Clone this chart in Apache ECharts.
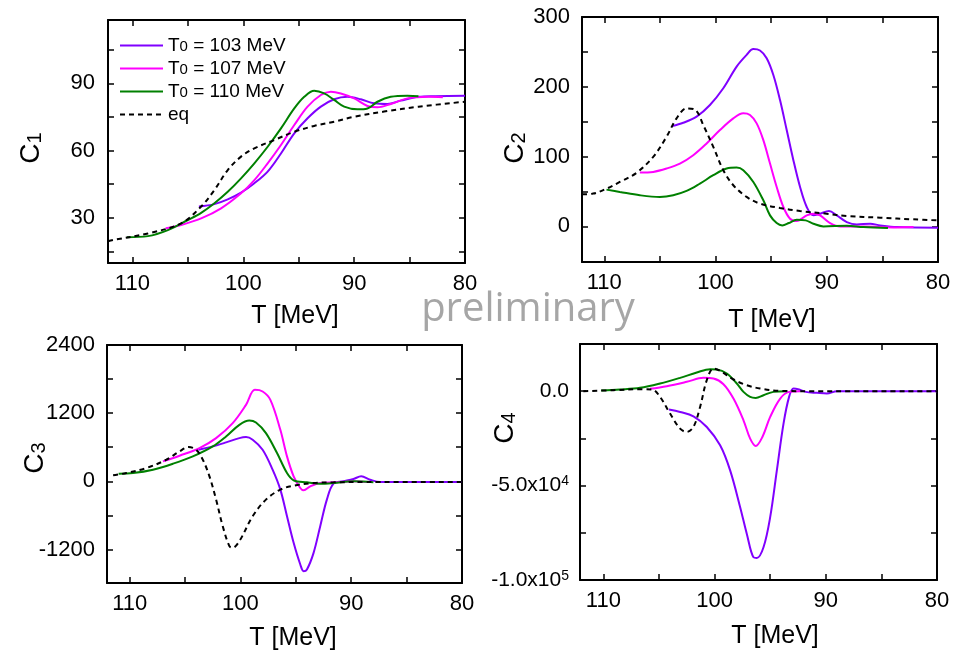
<!DOCTYPE html>
<html>
<head>
<meta charset="utf-8">
<script src="https://cdn.jsdelivr.net/npm/echarts@6/dist/echarts.min.js"></script>
<style>html,body{margin:0;padding:0;background:#fff}#c{width:959px;height:656px}</style>
</head>
<body>
<div id="c"></div>
<script>
// ---------- tick / label values ----------
const T_TICKS = [80, 85, 90, 95, 100, 105, 110];
const T_LABELS = [80, 90, 100, 110];
const C1_TICKS = [15, 30, 45, 60, 75, 90, 105];
const C1_LABELS = [30, 60, 90];
const C2_TICKS = [-50, 0, 50, 100, 150, 200, 250, 300];
const C2_LABELS = [0, 100, 200, 300];
const C3_TICKS = [-1800, -1200, -600, 0, 600, 1200, 1800, 2400];
const C3_LABELS = [-1200, 0, 1200, 2400];
const C4_TICKS = [-100000, -75000, -50000, -25000, 0, 25000];
const C4_LABELS = [-100000, -50000, 0];
const SERIES_NAMES = ['T0 = 103 MeV', 'T0 = 107 MeV', 'T0 = 110 MeV', 'eq'];

// ---------- C1 ----------
const c1_103 = [[104,35],[102.6,36.1],[101.4,38.2],[100.2,41.2],[99,45.4],[97.8,50.6],[96.6,58.7],[95.4,67.7],[94.2,74.4],[93,79.6],[91.8,82.9],[90.6,84],[89.4,82.9],[88.2,81.1],[87,80.8],[85.8,82.3],[84.2,84],[82.7,84.3],[80,84.5]];
const c1_107 = [[107,25.3],[105.6,26.8],[103.8,29.7],[102,34.2],[100.2,40.9],[99,46.8],[97.8,54.3],[96.6,62.5],[95.4,71.4],[94.2,79.6],[93,84.8],[92.1,86.3],[91.2,85.5],[90,83.3],[88.8,79.9],[87.9,79.3],[86.7,80.8],[85.2,83.3],[83.3,84],[82,83.8]];
const c1_110 = [[110.5,21.3],[108.6,21.8],[106.8,24.5],[105,29],[103.8,32.2],[102.6,36.5],[101.4,41.6],[100.2,47.6],[99,54.3],[97.8,61.7],[96.6,69.9],[95.4,78.8],[94.5,84],[93.6,86.7],[92.7,85.5],[91.8,82.6],[90.9,79.6],[89.7,78.4],[88.8,78.8],[87.9,81.8],[86.7,84],[85.2,84.5],[84.2,84.3]];
const c1_eq = [[112.2,19.5],[111.7,20.1],[108.6,23],[105.6,27.5],[103.8,35],[102.6,42.4],[101.4,51.3],[100.2,57.3],[99,61],[97.2,64.7],[95.4,68.4],[93.6,71],[91.8,72.9],[90,75.1],[87.3,77.4],[84.2,79.6],[80,81.8]];

// ---------- C2 ----------
const c2_103 = [[103.9,143.7],[102.9,148.5],[101.7,157.2],[100.5,173.9],[99.3,197.9],[98.1,229],[97.2,245.8],[96.6,254],[96,252],[95.4,241],[94.8,217],[94.2,181],[93.6,138],[93,94.9],[92.4,56.5],[91.8,27.8],[91.2,15.8],[90.6,18.2],[89.8,22],[89.1,15.8],[88.2,6.2],[87.3,2.9],[86.1,3.8],[85.2,1.4],[83.7,-1],[80,-1.9]];
const c2_107 = [[106.8,77.1],[105.6,78.1],[104.4,82.9],[103.2,90],[102,102],[100.8,118.8],[99.6,138],[98.4,154.8],[97.5,162],[96.9,159.6],[96.3,147.6],[95.7,123.6],[95.1,90],[94.5,56.5],[93.9,27.8],[93.3,11],[92.7,7.7],[91.8,15.8],[91.2,18.2],[90.6,15.8],[89.7,4.8],[88.8,0],[86.7,0],[83.7,-1.4],[82.2,-1]];
const c2_110 = [[109.8,52.7],[108.6,49.4],[106.8,44.6],[105,42.2],[103.8,44.6],[102.6,50.8],[101.4,61.3],[100.2,73.3],[99,82.9],[98.1,84.3],[97.5,80.5],[96.6,63.7],[95.7,37.4],[95.1,15.8],[94.5,4.8],[94,1.4],[93.4,4.8],[92.7,9.6],[91.9,8.6],[91.2,3.8],[90.3,0],[88.2,1],[86.7,-1],[84.5,-2.4]];
const c2_eq = [[112,46],[111,47],[109.8,54],[108.6,63.7],[107.1,76.7],[105.6,99.7],[104.4,128.4],[103.5,154.8],[102.6,169.1],[101.8,166.7],[101.1,145.2],[100.2,114],[99.3,80.5],[98.4,59],[97.2,42.2],[96,32.6],[94.2,26.4],[92.4,22],[90,18.2],[88.2,14.9],[85.2,12.5],[82.2,10.1],[80,8.6]];

// ---------- C3 ----------
const c3_103 = [[103.8,556],[102.5,615],[101.3,685],[100.1,761],[99.5,779],[98.9,732],[98,556],[97.1,205],[96.4,-146],[95.8,-615],[95.2,-1083],[94.6,-1464],[94.3,-1581],[94,-1551],[93.4,-1259],[92.8,-790],[92.2,-322],[91.6,-41],[90.7,0],[89.8,41],[89.1,88],[88.3,29],[87.4,-12],[80,-12]];
const c3_107 = [[107,351],[105.5,451],[103.7,585],[102.2,761],[100.7,1024],[99.5,1346],[98.7,1610],[98,1581],[97.3,1434],[96.4,907],[95.8,439],[95.2,88],[94.6,-117],[94.3,-158],[93.7,-88],[92.8,-29],[91.6,-18],[89.8,0],[88.6,-12]];
const c3_110 = [[111,135],[109.7,146],[107.9,205],[106.1,310],[104.3,439],[102.5,615],[101.3,790],[100.1,995],[99.2,1071],[98.6,1036],[97.7,849],[96.7,498],[95.8,146],[95.2,18],[94,-18],[92.8,-41],[91.6,-29],[89.8,0],[88,-18]];
const c3_eq = [[111.5,105],[110.3,146],[108.5,234],[106.7,380],[105.5,527],[104.7,603],[104,556],[103.4,380],[102.8,88],[102.2,-322],[101.6,-790],[101,-1141],[100.7,-1170],[100.1,-1054],[98.9,-615],[97.7,-322],[96.4,-146],[95.2,-76],[93.4,-29],[91.6,-18],[88.6,-12],[80,-12]];

// ---------- C4 ----------
const c4_103 = [[104.1,-9735],[103.1,-10974],[101.9,-13275],[100.7,-18939],[99.5,-28674],[98.6,-41949],[97.7,-61419],[97.1,-75579],[96.5,-87969],[96.2,-88323],[95.6,-82659],[95,-66729],[94.4,-41949],[93.8,-17169],[93.3,-3009],[92.9,1416],[92.4,885],[91.8,-354],[90.8,-885],[89.9,-1239],[89,0],[80,0]];
const c4_107 = [[105.8,1239],[104.3,2655],[102.5,4956],[101,7080],[100.1,6726],[99.2,3717],[98.3,-3894],[97.4,-15399],[96.8,-25134],[96.3,-29028],[95.7,-24249],[95,-13629],[94.1,-3894],[93.3,-354],[92.3,0]];
const c4_110 = [[110.2,354],[108.5,885],[106.7,1770],[104.9,4071],[103.1,7080],[101.6,9912],[100.4,11682],[99.8,11505],[98.9,9381],[98,4071],[97.4,-354],[96.8,-3009],[96.3,-3540],[95.6,-2124],[94.7,-354],[93.5,0]];
const c4_eq = [[111.8,0],[109.1,531],[106.7,1062],[105.6,885],[104.9,-3009],[104,-11859],[103.1,-19824],[102.5,-21594],[101.9,-18939],[101.3,-8319],[100.7,5841],[100.1,12036],[99.5,10797],[98.3,6195],[97.1,3186],[95.9,1416],[94.1,177],[91.1,0],[80,0]];

// ---------- build ----------
const FONT = '"Liberation Sans", Arial, sans-serif';
const COLORS = ['#8000ff', '#ff00ff', '#008000', '#000000'];
const panels = [
  { grid: {left:108, top:20, width:357, height:243}, xmax:112.2, ymin:9.8, ymax:118.3, yt:C1_TICKS, yl:C1_LABELS, data:[c1_103,c1_107,c1_110,c1_eq], lm:13 },
  { grid: {left:582, top:17, width:356, height:245}, xmax:112.0, ymin:-51, ymax:300, yt:C2_TICKS, yl:C2_LABELS, data:[c2_103,c2_107,c2_110,c2_eq], lm:12 },
  { grid: {left:107, top:345, width:355, height:238}, xmax:112.05, ymin:-1790, ymax:2400, yt:C3_TICKS, yl:C3_LABELS, data:[c3_103,c3_107,c3_110,c3_eq], lm:12 },
  { grid: {left:580, top:344, width:357, height:236}, xmax:112.1, ymin:-100000, ymax:25000, yt:C4_TICKS, yl:C4_LABELS, data:[c4_103,c4_107,c4_110,c4_eq], lm:11, sci:true }
];

const lineAx = {show:true, onZero:false, lineStyle:{color:'#000', width:2}};
const tickSt = {color:'#000', width:1.5};
const grids = [], xAxes = [], yAxes = [], series = [];
panels.forEach((p, i) => {
  grids.push(p.grid);
  xAxes.push({ gridIndex:i, type:'value', inverse:true, min:80, max:p.xmax, position:'bottom',
    axisLine:lineAx, splitLine:{show:false},
    axisTick:{show:true, inside:true, length:6, lineStyle:tickSt, customValues:T_TICKS},
    axisLabel:{show:true, customValues:T_LABELS, fontSize:22, color:'#000', fontFamily:FONT, margin:10} });
  yAxes.push({ gridIndex:i, type:'value', min:p.ymin, max:p.ymax, position:'left',
    axisLine:lineAx, splitLine:{show:false},
    axisTick:{show:true, inside:true, length:6, lineStyle:tickSt, customValues:p.yt},
    axisLabel:{show:true, customValues:p.yl, fontSize:22, color:'#000', fontFamily:FONT, margin:p.lm,
      formatter: p.sci ? (v => v === 0 ? '{b|0.0}' : (v === -50000 ? '{b|-5.0x10}{s|4}' : '{b|-1.0x10}{s|5}')) : (v => String(v)),
      rich: {b:{fontSize:21, fontFamily:FONT, color:'#000'}, s:{fontSize:14, fontFamily:FONT, color:'#000', verticalAlign:'top', padding:[0,0,8,0]}} } });
});
panels.forEach((p, i) => {
  xAxes.push({ gridIndex:i, type:'value', inverse:true, min:80, max:p.xmax, position:'top',
    axisLine:lineAx, splitLine:{show:false}, axisLabel:{show:false},
    axisTick:{show:true, inside:true, length:6, lineStyle:tickSt, customValues:T_TICKS} });
  yAxes.push({ gridIndex:i, type:'value', min:p.ymin, max:p.ymax, position:'right',
    axisLine:lineAx, splitLine:{show:false}, axisLabel:{show:false},
    axisTick:{show:true, inside:true, length:6, lineStyle:tickSt, customValues:p.yt} });
  p.data.forEach((d, k) => {
    series.push({ type:'line', name:SERIES_NAMES[k], xAxisIndex:i, yAxisIndex:i, data:d,
      showSymbol:false, symbol:'none', smooth:0.35, silent:true, animation:false,
      lineStyle:{color:COLORS[k], width:2, type: k === 3 ? [5,4] : 'solid'},
      itemStyle:{color:COLORS[k]}, z: k === 3 ? 3 : 2 });
  });
});

function yname(x, y, main, sub) {
  return { type:'text', x:x, y:y, rotation:Math.PI/2, z:10,
    style:{ text:'{c|' + main + '}{s|' + sub + '}', align:'center', verticalAlign:'middle',
      rich:{ c:{fontSize:28, fontFamily:FONT, fill:'#000', verticalAlign:'bottom'},
             s:{fontSize:20, fontFamily:FONT, fill:'#000', verticalAlign:'bottom'} } } };
}
function xname(x, y) {
  return { type:'text', x:x, y:y, z:10,
    style:{ text:'T [MeV]', fontSize:25, fontFamily:FONT, fill:'#000', align:'center', verticalAlign:'middle' } };
}

// legend icons: solid bar and dashed bar
const SOLID_ICON = 'path://M0,0H43V2H0Z';
const DASH_ICON = 'path://M0,0H5V2H0Z M9,0H14V2H9Z M18,0H23V2H18Z M27,0H32V2H27Z M36,0H41V2H36Z M43,0H43.01V2H43Z';

const option = {
  animation:false,
  backgroundColor:'#fff',
  grid: grids, xAxis: xAxes, yAxis: yAxes, series: series,
  legend: { show:true, orient:'vertical', left:115, top:31, itemWidth:43, itemHeight:2, itemGap:4,
    selectedMode:false,
    data: SERIES_NAMES.map((n, k) => ({ name:n, icon: k === 3 ? DASH_ICON : SOLID_ICON,
      itemStyle:{color:COLORS[k], borderWidth:0} })),
    formatter: n => n.indexOf('T0') === 0 ? '{n|T}{s|0}{n|' + n.slice(2) + '}' : '{n|' + n + '}',
    textStyle:{ fontSize:19, fontFamily:FONT, color:'#000',
      rich:{ n:{fontSize:19, fontFamily:FONT, color:'#000'},
             s:{fontSize:15, fontFamily:FONT, color:'#000', padding:[3,0,0,0]} } } },
  graphic: [
    xname(295, 316), xname(772, 320), xname(293, 638), xname(775, 636),
    yname(31, 148, 'C', '1'), yname(515, 148, 'C', '2'), yname(35, 458, 'C', '3'), yname(505, 428, 'C', '4'),
    { type:'text', x:528, y:310, z:20, style:{ text:'preliminary', fontSize:40, fontFamily:'"Open Sans", "Noto Sans", sans-serif', fill:'#a6a6a6', align:'center', verticalAlign:'middle' } }
  ]
};
const chart = echarts.init(document.getElementById('c'), null, {renderer:'canvas'});
chart.setOption(option);
</script>
</body>
</html>
